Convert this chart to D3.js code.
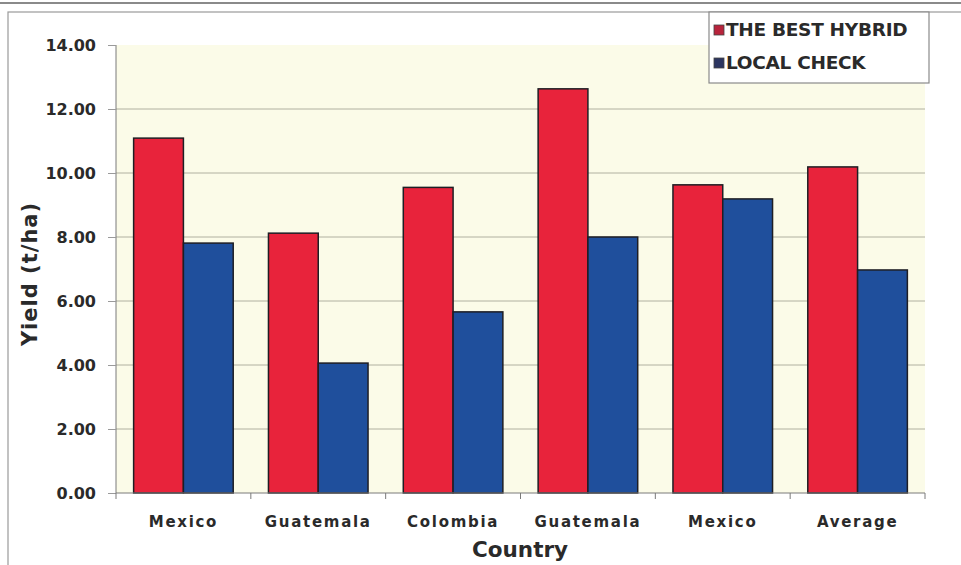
<!DOCTYPE html>
<html>
<head>
<meta charset="utf-8">
<script src="https://cdn.jsdelivr.net/npm/d3@7"></script>
<style>
  html, body { margin: 0; padding: 0; background: #ffffff; }
  svg { display: block; }
</style>
</head>
<body>
<svg id="chart" width="961" height="565"></svg>
<script>
// Yield trial results, best hybrid vs local check
const countries = ["Mexico", "Guatemala", "Colombia", "Guatemala", "Mexico", "Average"];
const seriesNames = ["THE BEST HYBRID", "LOCAL CHECK"];
const bestHybrid = [11.09, 8.12, 9.55, 12.63, 9.63, 10.19];
const localCheck = [7.81, 4.06, 5.66, 8.00, 9.19, 6.97];
const yTicks = [0, 2, 4, 6, 8, 10, 12, 14];
const seriesColors = ["#e8233b", "#1f4f9c"];

const svg = d3.select("#chart");
const W = 961, H = 565;
const plot = { left: 116, right: 925, top: 45, bottom: 493 };
const FONT = "DejaVu Sans, sans-serif";

// outer frame
svg.append("line").attr("x1", 0).attr("x2", W).attr("y1", 3).attr("y2", 3)
  .attr("stroke", "#8a8a8a").attr("stroke-width", 2);
svg.append("rect").attr("x", 8).attr("y", 12).attr("width", W + 10).attr("height", H)
  .attr("fill", "#ffffff").attr("stroke", "#9a9a9a").attr("stroke-width", 1.2);

// plot background
svg.append("rect")
  .attr("x", plot.left).attr("y", plot.top)
  .attr("width", plot.right - plot.left).attr("height", plot.bottom - plot.top)
  .attr("fill", "#fbfbe8");

const x0 = d3.scaleBand().domain(d3.range(countries.length))
  .range([plot.left, plot.right]).paddingInner(0).paddingOuter(0);
const x1 = d3.scaleBand().domain([0, 1]).range([0, x0.bandwidth()])
  .paddingInner(0).paddingOuter(0.354);
const y = d3.scaleLinear().domain([0, 14]).range([plot.bottom, plot.top]);

// gridlines
svg.append("g").selectAll("line")
  .data(yTicks.filter(t => t > 0 && t < 14))
  .join("line")
  .attr("x1", plot.left).attr("x2", plot.right)
  .attr("y1", d => y(d)).attr("y2", d => y(d))
  .attr("stroke", "#b0b0a0").attr("stroke-width", 1);

// bars
const rows = countries.map((c, i) => ({ i, vals: [bestHybrid[i], localCheck[i]] }));
const groups = svg.append("g").selectAll("g")
  .data(rows).join("g")
  .attr("transform", d => `translate(${x0(d.i)},0)`);
groups.selectAll("rect")
  .data(d => d.vals.map((v, k) => ({ v, k })))
  .join("rect")
  .attr("x", d => x1(d.k))
  .attr("width", x1.bandwidth())
  .attr("y", d => y(d.v))
  .attr("height", d => y(0) - y(d.v))
  .attr("fill", d => seriesColors[d.k])
  .attr("stroke", "#1e1e24").attr("stroke-width", 1.5);

// y axis
const yAxis = d3.axisLeft(y).tickValues(yTicks).tickSize(8).tickPadding(12)
  .tickFormat(d3.format(".2f"));
const gy = svg.append("g").attr("transform", `translate(${plot.left},0)`).call(yAxis);
gy.select(".domain").attr("stroke", "#7a7a7a").attr("d", `M0,${plot.bottom}V${plot.top}`);
gy.selectAll(".tick line").attr("stroke", "#9a9a9a");
gy.selectAll(".tick text")
  .attr("font-family", FONT).attr("font-weight", "bold")
  .attr("font-size", 16).attr("fill", "#2a2a2a");

// x axis
const xAxis = d3.axisBottom(x0).tickSize(0).tickPadding(23)
  .tickFormat(i => countries[i]);
const gx = svg.append("g").attr("transform", `translate(0,${plot.bottom})`).call(xAxis);
gx.select(".domain").attr("stroke", "#7a7a7a").attr("d", `M${plot.left},0H${plot.right}`);
gx.selectAll(".tick text")
  .attr("font-family", FONT).attr("font-weight", "bold")
  .attr("font-size", 15).attr("letter-spacing", "1.7px").attr("fill", "#2a2a2a");
// category separators
svg.append("g").selectAll("line")
  .data(d3.range(countries.length + 1))
  .join("line")
  .attr("x1", i => plot.left + i * x0.step()).attr("x2", i => plot.left + i * x0.step())
  .attr("y1", plot.bottom).attr("y2", plot.bottom + 6)
  .attr("stroke", "#7a7a7a");

// axis titles
svg.append("text")
  .attr("transform", `translate(37,${(plot.top + plot.bottom) / 2 + 5}) rotate(-90)`)
  .attr("text-anchor", "middle")
  .attr("font-family", FONT).attr("font-weight", "bold")
  .attr("font-size", 21).attr("letter-spacing", "1px").attr("fill", "#2a2a2a")
  .text("Yield (t/ha)");
svg.append("text")
  .attr("x", 520).attr("y", 557)
  .attr("text-anchor", "middle")
  .attr("font-family", FONT).attr("font-weight", "bold")
  .attr("font-size", 21.5).attr("fill", "#2a2a2a")
  .text("Country");

// legend
const lg = svg.append("g");
lg.append("rect").attr("x", 709).attr("y", 12).attr("width", 220).attr("height", 71)
  .attr("fill", "#ffffff").attr("stroke", "#8a8a8a").attr("stroke-width", 1.2);
const items = lg.selectAll("g.item").data(seriesNames).join("g")
  .attr("class", "item")
  .attr("transform", (d, i) => `translate(714,${22 + i * 33})`);
items.append("rect").attr("width", 10).attr("height", 10).attr("y", 3)
  .attr("fill", (d, i) => i === 0 ? "#b8243c" : "#2c3560")
  .attr("stroke", "#444").attr("stroke-width", 0.8);
items.append("text").attr("x", 12).attr("y", 14)
  .attr("font-family", FONT).attr("font-weight", "bold")
  .attr("font-size", 18.5).attr("letter-spacing", "-0.3px").attr("fill", "#2a2a2a")
  .text(d => d);
</script>
</body>
</html>
